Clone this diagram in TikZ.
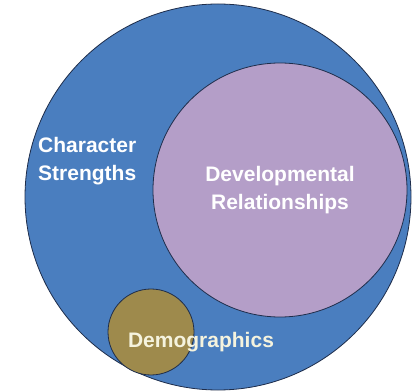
\documentclass[tikz,border=0pt]{standalone}
\usepackage{fontspec}
\setmainfont{Liberation Sans}
\usepackage{tikz}
\usetikzlibrary{positioning}
\definecolor{char_blue}{RGB}{74,126,191}
\definecolor{dev_purple}{RGB}{180,158,200}
\definecolor{demo_olive}{RGB}{158,138,76}
\definecolor{dark_line}{RGB}{30,45,75}
\definecolor{light_text}{RGB}{245,243,222}

\begin{document}
\begin{tikzpicture}[x=1pt,y=1pt,
      mycircle/.style={
         circle,
         draw=dark_line,
         line width=0.8pt,
         inner sep=0pt},
      mylabel/.style={
         text=white,
         font=\fontsize{21}{28}\selectfont\bfseries,
         inner sep=0pt},
      ]
      \useasboundingbox (0,0) rectangle (415,391);
      % outer circle
      \node[mycircle,fill=char_blue,minimum size=386pt] (cs) at (218,194) {};
      \node[mycircle,fill=dev_purple,minimum size=254pt,mylabel,align=center] (dr) at (280,201)
         {Developmental\\Relationships};
      \node[mycircle,fill=demo_olive,minimum size=86pt] (demo) at (151,59) {};

      \node[mylabel,align=left,anchor=west] (cs_txt) at (38,230) {Character\\Strengths};
      \node[mylabel,text=light_text] (demo_txt) at (201,49) {Demographics};
\end{tikzpicture}
\end{document}
